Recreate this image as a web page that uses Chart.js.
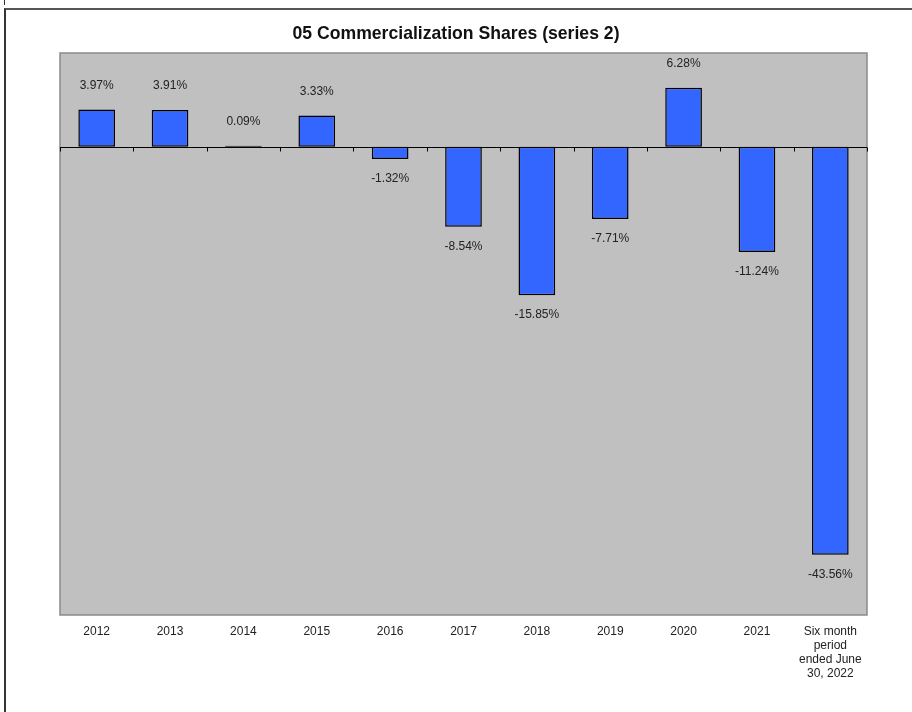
<!DOCTYPE html>
<html>
<head>
<meta charset="utf-8">
<script src="https://cdn.jsdelivr.net/npm/chart.js@4.4.1/dist/chart.umd.min.js"></script>
<style>
  html, body { margin: 0; padding: 0; background: #ffffff; overflow: hidden; }
  #wrap { position: relative; width: 912px; height: 712px; }
  #frame { position: absolute; left: 4px; top: 8px; width: 1000px; height: 800px; border-left: 2px solid #333; border-top: 2px solid #555; box-sizing: border-box; }
  #tick { position: absolute; left: 4px; top: 0; width: 1px; height: 5px; background: #333; }
  canvas { position: absolute; left: 0; top: 0; }
</style>
</head>
<body>
<div id="wrap">
  <div id="tick"></div>
  <div id="frame"></div>
  <canvas id="c" width="912" height="712"></canvas>
</div>
<script>
const categories = ["2012", "2013", "2014", "2015", "2016", "2017", "2018", "2019", "2020", "2021", ["Six month", "period", "ended June", "30, 2022"]];
const shares = [3.97, 3.91, 0.09, 3.33, -1.32, -8.54, -15.85, -7.71, 6.28, -11.24, -43.56];
const yMin = -50;
const yMax = 10;
const titleText = "05 Commercialization Shares (series 2)";

const plotBg = {
  id: 'plotBg',
  beforeDatasetsDraw(chart) {
    const { ctx, chartArea: a } = chart;
    ctx.save();
    ctx.fillStyle = '#c0c0c0';
    ctx.fillRect(a.left, a.top, a.right - a.left, a.bottom - a.top);
    ctx.strokeStyle = '#8a8a8a';
    ctx.lineWidth = 1.5;
    ctx.strokeRect(a.left, a.top, a.right - a.left, a.bottom - a.top);
    ctx.restore();
  },
  afterDatasetsDraw(chart) {
    const { ctx, chartArea: a, scales } = chart;
    const y0 = Math.round(scales.y.getPixelForValue(0)) + 0.5;
    ctx.save();
    ctx.strokeStyle = '#000';
    ctx.lineWidth = 1;
    ctx.beginPath();
    ctx.moveTo(a.left, y0);
    ctx.lineTo(a.right, y0);
    const n = categories.length;
    const w = (a.right - a.left) / n;
    for (let i = 0; i <= n; i++) {
      const x = Math.round(a.left + w * i) + 0.5;
      ctx.moveTo(x, y0);
      ctx.lineTo(x, y0 + 4);
    }
    ctx.stroke();
    // value labels
    ctx.fillStyle = '#222';
    ctx.font = '12px "Liberation Sans", Arial, sans-serif';
    ctx.textAlign = 'center';
    ctx.textBaseline = 'middle';
    const meta = chart.getDatasetMeta(0);
    meta.data.forEach((bar, i) => {
      const v = shares[i];
      const yEnd = scales.y.getPixelForValue(v);
      const y = v >= 0 ? yEnd - 24 : yEnd + 20;
      ctx.fillText(v.toFixed(2) + '%', bar.x, y);
    });
    // title (narrow)
    ctx.font = 'bold 19px "Liberation Sans", Arial, sans-serif';
    ctx.fillStyle = '#111';
    ctx.textAlign = 'left';
    ctx.textBaseline = 'alphabetic';
    const tw = ctx.measureText(titleText).width;
    const target = 327;
    const sx = target / tw;
    ctx.translate(chart.width / 2 - target / 2, 39);
    ctx.scale(sx, 1);
    ctx.fillText(titleText, 0, 0);
    ctx.restore();
  }
};

new Chart(document.getElementById('c'), {
  type: 'bar',
  data: {
    labels: categories,
    datasets: [{
      data: shares,
      backgroundColor: '#3366ff',
      borderColor: '#000000',
      borderWidth: 1.5,
      borderSkipped: false,
      barPercentage: 0.5,
      categoryPercentage: 1.0
    }]
  },
  options: {
    responsive: false,
    animation: false,
    devicePixelRatio: 1,
    layout: { padding: { left: 60, right: 45, top: 53, bottom: 0 } },
    plugins: {
      legend: { display: false },
      tooltip: { enabled: false },
      title: { display: false }
    },
    scales: {
      x: {
        grid: { display: false, drawTicks: false },
        border: { display: false },
        ticks: {
          color: '#222',
          padding: 10,
          maxRotation: 0,
          autoSkip: false,
          font: { family: '"Liberation Sans", Arial, sans-serif', size: 12, lineHeight: 1.17 }
        },
        afterFit(scale) { scale.height = 97; }
      },
      y: {
        display: false,
        min: yMin,
        max: yMax
      }
    }
  },
  plugins: [plotBg]
});
</script>
</body>
</html>
